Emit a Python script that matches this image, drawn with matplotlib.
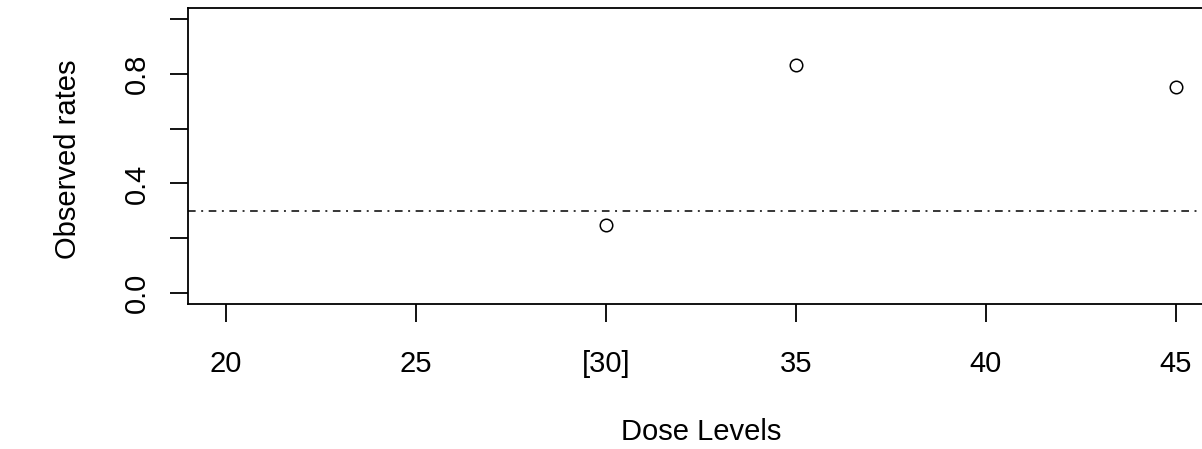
import numpy as np
import matplotlib
matplotlib.use("Agg")
import matplotlib.pyplot as plt

# dose levels and the observed toxicity rates (nan = level not tried)
doses = [20, 25, 30, 35, 40, 45]
dose_labels = ["20", "25", "[30]", "35", "40", "45"]
rates = [np.nan, np.nan, 0.25, 0.833, np.nan, 0.75]
target = 0.3
yticks = [0.0, 0.2, 0.4, 0.6, 0.8, 1.0]
ytick_labels = ["0.0", "", "0.4", "", "0.8", ""]

plt.rcParams['font.family'] = ['Liberation Sans', 'DejaVu Sans']
plt.rcParams['lines.scale_dashes'] = False

W, H = 1202, 449
fig = plt.figure(figsize=(W / 100, H / 100), dpi=100)
left, right, top, bottom = 188, 1214, 8, 304
ax = fig.add_axes([left / W, 1 - bottom / H, (right - left) / W, (bottom - top) / H])

ax.plot(doses, rates, linestyle='none', marker='o', markersize=9,
        markerfacecolor='none', markeredgecolor='black', markeredgewidth=1.1)
ax.axhline(target, color='black', linewidth=1.1, dashes=(5.5, 4, 1.4, 4))

ax.set_xlim(19, 46)
ax.set_ylim(-0.04, 1.04)

ax.set_xticks(doses)
ax.set_xticklabels(dose_labels)
ax.set_yticks(yticks)
ax.set_yticklabels(ytick_labels, rotation=90, va='center')

for s in ax.spines.values():
    s.set_linewidth(1.3)
ax.tick_params(axis='both', length=13, width=1.3, labelsize=21, direction='out')
ax.tick_params(axis='x', pad=20)
ax.tick_params(axis='y', pad=14)

ax.set_xlabel("Dose Levels", fontsize=21)
ax.xaxis.set_label_coords(0.5, (bottom - 432) / (bottom - top))
ax.xaxis.label.set_va('center')
ax.set_ylabel("Observed rates", fontsize=21)
ax.yaxis.set_label_coords((68 - left) / (right - left), 0.49)
ax.yaxis.label.set_va('center')

fig.savefig("out.png", dpi=100)
